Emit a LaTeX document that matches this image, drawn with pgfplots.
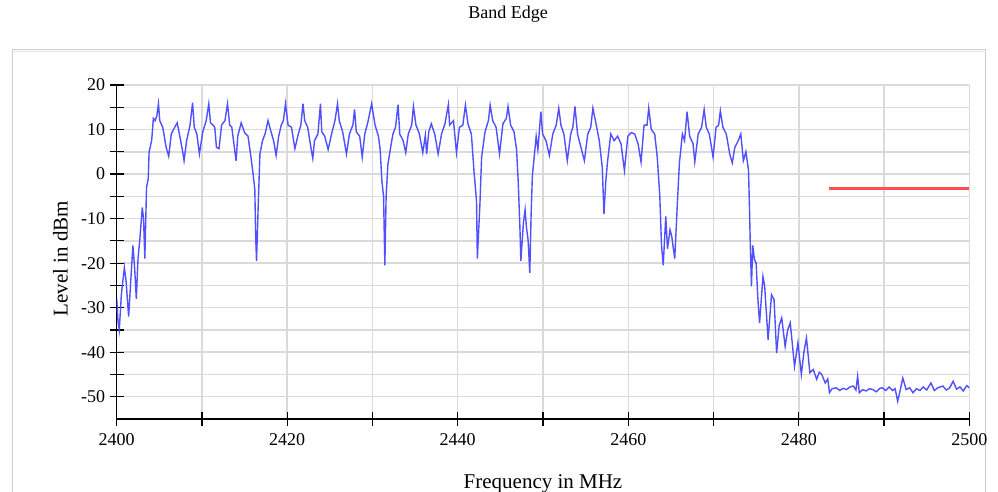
\documentclass[border=0pt]{standalone}
\usepackage{fontspec}
\setmainfont{Liberation Serif}
\usepackage{pgfplots}
\pgfplotsset{compat=1.18}
\definecolor{traceblue}{RGB}{80,80,255}
\definecolor{limitred}{RGB}{255,80,80}
\definecolor{gridgray}{RGB}{218,218,218}
\definecolor{framegray}{RGB}{205,205,205}
\begin{document}
\begin{tikzpicture}
\useasboundingbox (0,0) rectangle (998pt,492pt);
\fill[white] (0,0) rectangle (998pt,492pt);
\draw[framegray, line width=1pt] (12pt,-5pt) -- (12pt,442pt) -- (985pt,442pt) -- (985pt,-5pt);
\draw[framegray!50, line width=1pt] (13pt,440.5pt) -- (984pt,440.5pt);
\begin{axis}[
  at={(116.7pt,73pt)}, anchor=south west,
  scale only axis, width=852.6pt, height=334pt,
  xmin=2400, xmax=2500, ymin=-55, ymax=20,
  axis x line=bottom, axis y line=left,
  axis line style={-, black, line width=1.2pt},
  xtick={2400,2420,...,2500}, minor xtick={2410,2430,...,2490},
  ytick={-50,-40,...,20}, minor ytick={-45,-35,...,15},
  tick align=center, major tick length=14pt, minor tick length=14pt,
  every tick/.style={black, line width=1.2pt},
  grid=both,
  major grid style={gridgray, line width=1.5pt},
  minor grid style={gridgray, line width=1.5pt},
  /pgf/number format/assume math mode=true,
  /pgf/number format/1000 sep={},
  tick label style={font=\fontsize{18}{18}\selectfont, black},
  xticklabel style={yshift=-4pt},
  yticklabel style={xshift=-1pt},
  title={Band Edge},
  title style={font=\fontsize{18}{18}\selectfont, at={(axis description cs:0.459,1.195)}, anchor=center},
  xlabel={Frequency in MHz},
  xlabel style={font=\fontsize{21}{21}\selectfont, at={(axis description cs:0.5,-0.195)}, anchor=center},
  ylabel={Level in dBm},
  ylabel style={font=\fontsize{21}{21}\selectfont, at={(axis description cs:-0.066,0.48)}, anchor=center},
]
\addplot[traceblue, line width=1.4pt] coordinates {
(2400.0,-28) (2400.15,-33) (2400.3,-35) (2400.55,-27) (2400.9,-21) (2401.1,-24) (2401.4,-32)
(2401.65,-24) (2401.9,-16) (2402.1,-21) (2402.3,-28) (2402.5,-19) (2402.7,-15) (2403.0,-7.5)
(2403.15,-10) (2403.3,-19) (2403.5,-3) (2403.7,-1) (2403.8,5) (2404.1,7.5) (2404.3,12.5)
(2404.5,12) (2404.7,13) (2404.9,15.8) (2405.05,12) (2405.4,10.5) (2405.8,6) (2406.1,4)
(2406.4,9) (2406.8,10.5) (2407.1,11.5) (2407.4,8.5) (2407.7,5.5) (2407.9,3) (2408.2,7.5)
(2408.6,11) (2408.9,16) (2409.1,10.5) (2409.4,9) (2409.7,4.5) (2410.1,9.5) (2410.5,12)
(2410.8,15.8) (2411.0,11.5) (2411.3,11) (2411.5,10.5) (2411.7,6) (2412.0,5.7) (2412.3,11)
(2412.7,12) (2413.0,15.8) (2413.25,11) (2413.5,10.5) (2413.8,6) (2414.0,3) (2414.2,8.5)
(2414.6,11.5) (2415.0,9.3) (2415.4,8.5) (2415.7,4.5) (2416.0,0) (2416.2,-3.5) (2416.3,-14)
(2416.4,-19.5) (2416.6,-7) (2416.8,4.5) (2417.1,7.5) (2417.4,9) (2417.75,12) (2418.1,9.5)
(2418.4,7.5) (2418.7,4.2) (2419.0,8.5) (2419.3,11) (2419.55,12) (2419.8,15.8) (2420.1,11)
(2420.5,10.5) (2420.9,5.7) (2421.3,9) (2421.6,11) (2421.85,15.8) (2422.05,12) (2422.4,10.5)
(2422.8,5.7) (2423.0,3.5) (2423.2,7.5) (2423.6,9) (2423.9,15.8) (2424.05,9.5) (2424.4,8.5)
(2424.8,5.5) (2425.2,9) (2425.6,12) (2425.9,15.8) (2426.1,12) (2426.5,9.5) (2426.95,4.5)
(2427.3,9) (2427.7,11) (2427.9,14.5) (2428.1,9.5) (2428.5,8.5) (2428.8,3.8) (2429.1,9)
(2429.5,12) (2429.9,15.8) (2430.3,11) (2430.7,8.5) (2430.9,5.5) (2431.1,-1.5) (2431.3,-5)
(2431.45,-20.5) (2431.6,-5) (2431.8,2) (2432.1,5.7) (2432.4,9) (2432.7,10.5) (2433.0,15.6)
(2433.2,9) (2433.6,7.5) (2433.9,4.8) (2434.2,9) (2434.6,11) (2434.8,15.2) (2435.1,11)
(2435.5,9) (2435.9,4.8) (2436.2,8.7) (2436.35,4.5) (2436.6,9.5) (2436.9,11.3) (2437.3,9)
(2437.7,4.5) (2438.1,9) (2438.5,11.3) (2438.9,15.6) (2439.05,11) (2439.5,12) (2439.85,4.8)
(2440.2,10.5) (2440.6,11) (2440.9,15.5) (2441.2,11.3) (2441.6,9) (2441.9,0.8) (2442.2,-6)
(2442.3,-19) (2442.6,-6.8) (2442.8,3.8) (2443.2,9.5) (2443.6,12) (2443.8,15.5) (2444.1,12)
(2444.5,10.5) (2444.9,4.5) (2445.3,11.3) (2445.7,12.5) (2445.9,15.2) (2446.2,11) (2446.6,9.5)
(2446.9,5.5) (2447.1,-2) (2447.3,-12.5) (2447.4,-19.5) (2447.7,-11) (2447.9,-8) (2448.05,-11.8)
(2448.25,-14.8) (2448.45,-22.2) (2448.6,-9.5) (2448.75,-0.5) (2449.0,4.5) (2449.2,8.5)
(2449.4,5.5) (2449.75,14) (2449.95,9) (2450.35,7.5) (2450.75,4.2) (2451.15,9) (2451.55,11)
(2451.85,14.8) (2452.1,11) (2452.45,9) (2452.85,3) (2453.25,9) (2453.5,10.5) (2453.75,15.2)
(2454.05,9) (2454.45,6) (2454.85,3) (2455.25,9) (2455.6,10.5) (2455.85,14.8) (2456.25,11)
(2456.6,7.5) (2456.95,1.5) (2457.15,-9) (2457.35,-2) (2457.55,2.5) (2457.95,9) (2458.35,7.5)
(2458.75,8.5) (2459.15,6.8) (2459.55,0.8) (2459.95,8.5) (2460.35,9.3) (2460.75,9)
(2461.15,6.8) (2461.5,2.7) (2461.85,11) (2462.2,11) (2462.4,14.8) (2462.7,10) (2463.1,9)
(2463.4,3.8) (2463.7,-5) (2463.9,-16) (2464.1,-20.5) (2464.4,-9.5) (2464.6,-16.8) (2464.9,-12.5)
(2465.1,-14) (2465.45,-19) (2465.8,-5) (2466.0,2.5) (2466.35,9) (2466.6,7.5) (2466.9,14)
(2467.2,8.5) (2467.6,6.8) (2467.8,2.7) (2468.2,9) (2468.6,10.5) (2468.9,14.5) (2469.15,10.5)
(2469.5,9) (2469.95,3.8) (2470.3,10.5) (2470.6,11) (2470.8,14.2) (2471.1,10.5) (2471.5,9)
(2471.9,4.5) (2472.2,2.5) (2472.5,6) (2472.9,7.5) (2473.2,9) (2473.5,3) (2473.8,5)
(2474.1,0.9) (2474.2,-6.2) (2474.3,-14.8) (2474.45,-25.2) (2474.6,-16) (2474.8,-19.2)
(2475.0,-20) (2475.2,-28) (2475.4,-33.4) (2475.8,-23) (2476.0,-25.2) (2476.4,-37.2)
(2476.8,-27.1) (2477.1,-28.2) (2477.4,-40.2) (2477.7,-34) (2478.0,-32.3) (2478.4,-38.7)
(2478.7,-35) (2479.0,-33.4) (2479.5,-43.2) (2479.9,-37.9) (2480.3,-45) (2480.6,-40)
(2480.9,-36.8) (2481.3,-44.6) (2481.7,-43.9) (2482.1,-46.1) (2482.4,-44.5) (2482.7,-45)
(2483.1,-46.9) (2483.4,-46) (2483.6,-49.1) (2483.9,-48.2) (2484.4,-48) (2484.8,-48.6)
(2485.2,-48.1) (2485.6,-48.4) (2486.0,-47.8) (2486.4,-47.6) (2486.7,-48.5) (2486.9,-45.4)
(2487.1,-49.1) (2487.5,-48.4) (2487.9,-48.7) (2488.3,-48.2) (2488.7,-48.4) (2489.1,-48.9)
(2489.5,-48.1) (2489.8,-48) (2490.2,-48.6) (2490.6,-47.8) (2491.0,-48.6) (2491.3,-48.2)
(2491.6,-51) (2491.9,-48.5) (2492.2,-45.8) (2492.6,-48.4) (2493.0,-48) (2493.4,-49.1)
(2493.8,-48.2) (2494.2,-48.6) (2494.6,-47.8) (2495.0,-48.5) (2495.5,-46.9) (2495.9,-48.6)
(2496.3,-48) (2496.9,-47.6) (2497.3,-48.5) (2497.7,-48) (2498.1,-46.5) (2498.5,-48.3)
(2498.9,-47.8) (2499.3,-48.7) (2499.7,-47.5) (2500.0,-48)
};
\addplot[limitred, line width=3pt] coordinates {(2483.5,-3.2) (2500,-3.2)};
\end{axis}
\end{tikzpicture}
\end{document}
